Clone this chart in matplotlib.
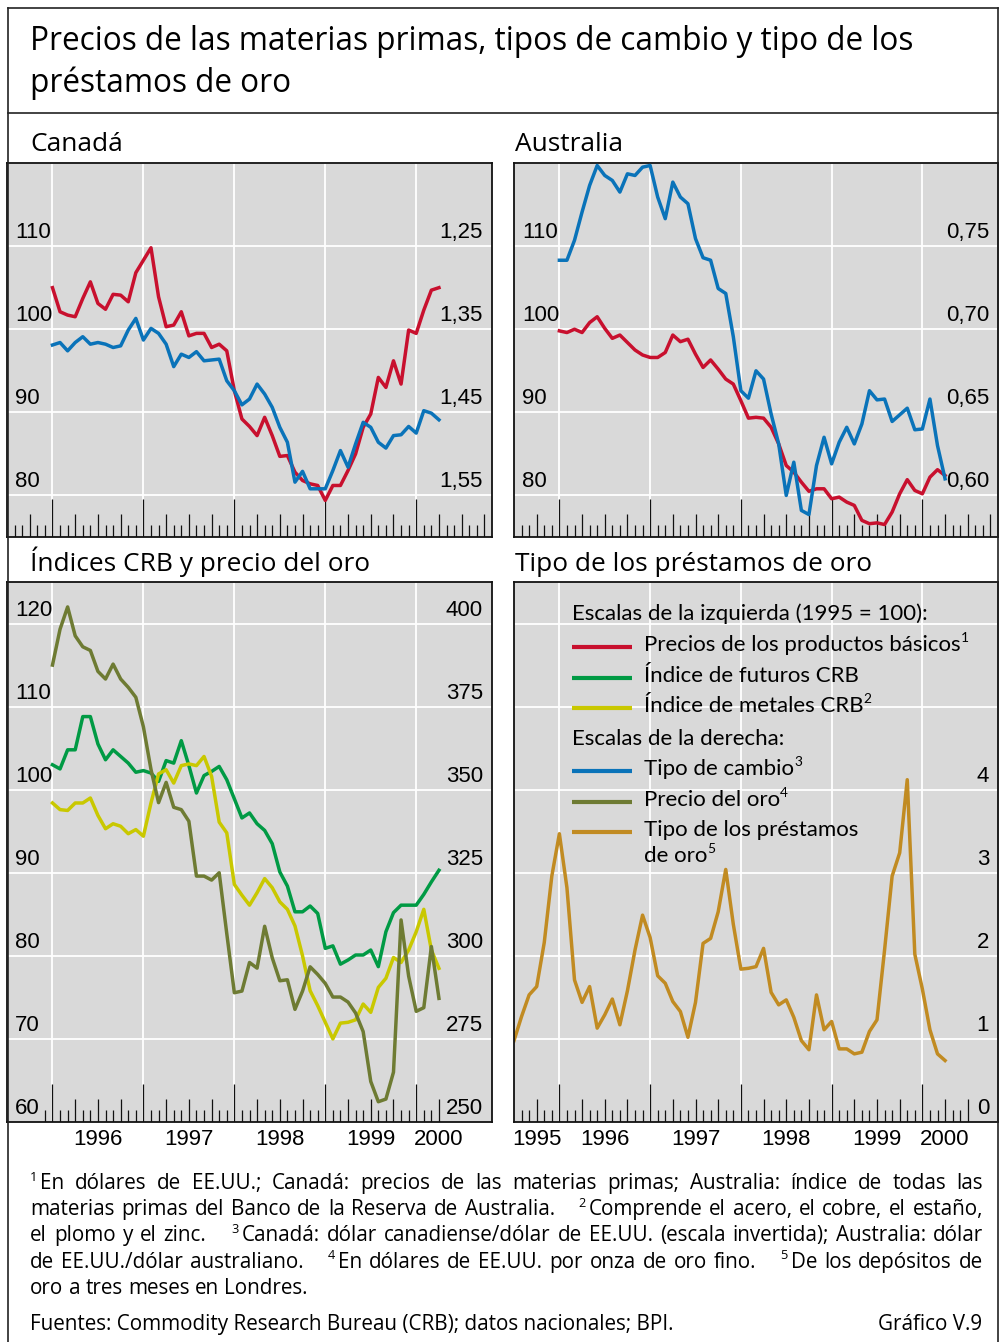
import numpy as np
import pandas as pd
import matplotlib
matplotlib.use('Agg')
import matplotlib.pyplot as plt
import matplotlib.transforms as mtransforms
from matplotlib.lines import Line2D

# ---------------- data (monthly) ----------------
# Jan 1996 .. Apr 2000
CAN_COMMODITY = [105.0, 102.1, 101.7, 101.5, 103.7, 105.7, 103.1, 102.4, 104.2, 104.1, 103.3, 106.8,
                 108.3, 109.8, 103.9, 100.3, 100.5, 102.1, 99.2, 99.5, 99.5, 97.8, 98.2, 97.4,
                 92.6, 89.2, 88.3, 87.2, 89.4, 87.2, 84.7, 84.8, 82.8, 81.8, 81.4, 81.2,
                 79.4, 81.2, 81.2, 83.0, 85.0, 88.2, 89.8, 94.2, 93.0, 96.2, 93.4, 99.9,
                 99.5, 102.3, 104.7, 105.0]
CAN_FX = [1.369, 1.366, 1.376, 1.366, 1.359, 1.368, 1.366, 1.368, 1.372, 1.370, 1.351, 1.337,
          1.363, 1.349, 1.355, 1.368, 1.395, 1.380, 1.384, 1.377, 1.388, 1.387, 1.386, 1.412,
          1.424, 1.441, 1.434, 1.416, 1.428, 1.444, 1.468, 1.486, 1.534, 1.521, 1.542, 1.542,
          1.542, 1.520, 1.496, 1.516, 1.488, 1.462, 1.468, 1.486, 1.493, 1.478, 1.477, 1.467,
          1.475, 1.448, 1.451, 1.459]
AUS_COMMODITY = [99.8, 99.6, 100.0, 99.6, 100.8, 101.5, 100.1, 98.9, 99.3, 98.4, 97.5, 96.9,
                 96.6, 96.6, 97.2, 99.3, 98.5, 98.8, 97.0, 95.4, 96.3, 95.2, 94.0, 93.4,
                 91.4, 89.3, 89.4, 89.3, 88.2, 86.2, 83.6, 82.8, 81.6, 80.5, 80.8, 80.8,
                 79.6, 79.8, 79.2, 78.8, 77.0, 76.6, 76.7, 76.5, 78.0, 80.2, 81.9, 80.6,
                 80.2, 82.2, 83.1, 82.4]
AUS_FX = [0.7415, 0.7415, 0.7535, 0.7705, 0.7865, 0.7985, 0.7925, 0.7895, 0.7825, 0.7935, 0.7925, 0.7975,
          0.7985, 0.7795, 0.7665, 0.7885, 0.7795, 0.7755, 0.7545, 0.7430, 0.7415, 0.7245, 0.7215, 0.6955,
          0.6630, 0.6585, 0.6750, 0.6700, 0.6490, 0.6310, 0.6000, 0.6200, 0.5910, 0.5885, 0.6180, 0.6350,
          0.6190, 0.6320, 0.6410, 0.6310, 0.6430, 0.6630, 0.6575, 0.6580, 0.6445, 0.6485, 0.6525, 0.6395,
          0.6400, 0.6580, 0.6300, 0.6100]
CRB_FUTURES = [103.0, 102.5, 104.8, 104.8, 108.8, 108.8, 105.5, 103.6, 104.8, 104.0, 103.2, 102.1,
               102.3, 102.0, 101.0, 103.5, 103.2, 105.9, 102.9, 99.6, 101.7, 102.2, 102.8, 101.2,
               98.9, 96.6, 97.2, 95.9, 95.1, 93.5, 90.1, 88.4, 85.3, 85.3, 86.0, 85.1,
               80.9, 81.2, 79.0, 79.5, 80.1, 80.1, 80.7, 78.7, 82.9, 85.2, 86.1, 86.1,
               86.1, 87.4, 88.9, 90.3]
CRB_METALS = [98.4, 97.6, 97.5, 98.4, 98.4, 99.0, 96.9, 95.3, 95.9, 95.6, 94.7, 95.2,
              94.4, 98.4, 101.9, 102.4, 100.8, 102.9, 103.1, 102.9, 104.0, 101.6, 96.1, 94.8,
              88.6, 87.3, 86.1, 87.6, 89.3, 88.2, 86.5, 85.6, 83.6, 80.0, 75.8, 74.0,
              72.0, 70.0, 71.9, 72.0, 72.3, 74.2, 73.2, 76.2, 77.3, 79.8, 79.2, 80.7,
              82.9, 85.6, 80.7, 78.5]
GOLD_PRICE = [387.5, 398.3, 405.0, 396.3, 393.0, 391.9, 385.6, 383.3, 387.8, 383.3, 380.8, 377.8,
              368.9, 356.1, 346.1, 352.2, 344.7, 344.0, 340.5, 324.0, 324.0, 322.8, 325.0, 306.7,
              288.9, 289.4, 298.0, 296.3, 308.9, 299.4, 292.5, 292.8, 283.9, 289.4, 296.7, 294.4,
              291.7, 287.6, 287.6, 286.1, 282.8, 277.2, 262.2, 256.1, 256.9, 265.0, 310.8, 293.9,
              283.3, 284.4, 302.8, 287.2]
# Jul 1995 .. Apr 2000
GOLD_LEASE = [0.98, 1.27, 1.53, 1.63, 2.16, 2.96,
              3.47, 2.82, 1.71, 1.44, 1.63, 1.13, 1.29, 1.48, 1.17, 1.58, 2.07, 2.49,
              2.22, 1.76, 1.67, 1.45, 1.33, 1.02, 1.44, 2.15, 2.21, 2.53, 3.04, 2.38,
              1.84, 1.85, 1.87, 2.09, 1.56, 1.41, 1.47, 1.26, 0.98, 0.87, 1.53, 1.11,
              1.21, 0.88, 0.88, 0.82, 0.84, 1.09, 1.23, 2.07, 2.96, 3.24, 4.12, 2.02,
              1.60, 1.11, 0.82, 0.74]
START_MAIN = '1996-01'
START_LEASE = '1995-07'

# tick labels
CAN_LEFT = [80, 90, 100, 110]
CAN_RIGHT = [1.55, 1.45, 1.35, 1.25]
AUS_LEFT = [80, 90, 100, 110]
AUS_RIGHT = [0.60, 0.65, 0.70, 0.75]
CRB_LEFT = [60, 70, 80, 90, 100, 110, 120]
GOLD_RIGHT = [250, 275, 300, 325, 350, 375, 400]
LEASE_RIGHT = [0, 1, 2, 3, 4]
YEARS_LL = ['1996', '1997', '1998', '1999', '2000']
YEARS_LR = ['1995', '1996', '1997', '1998', '1999', '2000']
YEAR_GRID = [1996, 1997, 1998, 1999, 2000]

# ---------------- style ----------------
RED = '#c8102e'
BLUE = '#0a73b9'
GREEN = '#009a44'
YELLOW = '#c9c800'
OLIVE = '#6e7b33'
GOLD = '#c18b22'
BG = '#d9d9d9'
INK = '#111111'
SANS = ['Lato', 'DejaVu Sans']
WIDE = ['Open Sans', 'DejaVu Sans']
TICKF = ['Liberation Sans', 'DejaVu Sans']
TICK_FS = 16
LW = 2.5

W, H = 1000, 1342
fig = plt.figure(figsize=(W / 100, H / 100), dpi=100)
fig.patch.set_facecolor('white')
renderer = fig.canvas.get_renderer()
XLIM = (1995.5, 2000 + 10 / 12)


def fx(x):
    return x / W


def fy(y):
    return 1 - y / H


def month_positions(start, n):
    per = pd.period_range(start, periods=n, freq='M')
    return np.array([p.year + (p.month - 1) / 12 for p in per])


def setup_panel(rect, ylim, grid_vals, tick_first, tick_last):
    l, t, r, b = rect
    ax = fig.add_axes([fx(l), fy(b), (r - l) / W, (b - t) / H])
    hpx = b - t
    ax.set_facecolor(BG)
    ax.set_xlim(XLIM)
    ax.set_ylim(ylim)
    ax.set_xticks([])
    ax.set_yticks([])
    for s in ax.spines.values():
        s.set_linewidth(1.3)
        s.set_color(INK)
        s.set_zorder(8)
    for v in grid_vals:
        ax.axhline(v, color='white', lw=1.3, zorder=1)
    for yr in YEAR_GRID:
        ax.axvline(yr, color='white', lw=1.3, zorder=1)
    trans = ax.get_xaxis_transform()
    for p in pd.period_range(tick_first, tick_last, freq='M'):
        x = p.year + (p.month - 1) / 12
        h = 38 if p.month == 1 else (23 if p.month in (4, 7, 10) else 12)
        ax.plot([x, x], [0, h / hpx], transform=trans, color=INK, lw=0.9,
                zorder=2, solid_capstyle='butt')
    return ax


def twin(ax, ylim):
    ax2 = ax.twinx()
    ax2.set_ylim(ylim)
    ax2.set_xlim(XLIM)
    ax2.set_yticks([])
    ax2.set_xticks([])
    for s in ax2.spines.values():
        s.set_visible(False)
    return ax2


def ylabels(ax, values, side, fmt):
    trans = mtransforms.blended_transform_factory(ax.transAxes, ax.transData)
    trans = trans + mtransforms.ScaledTranslation(0, 8 / 100, fig.dpi_scale_trans)
    axw = ax.get_position().width * W
    x = 8 / axw if side == 'left' else 1 - 9 / axw
    for v in values:
        ax.text(x, v, fmt(v), transform=trans, ha=side, va='baseline',
                fontsize=TICK_FS, family=TICKF, zorder=9)


def xlabels(ax, texts, positions):
    trans = ax.get_xaxis_transform() + mtransforms.ScaledTranslation(0, -23 / 100, fig.dpi_scale_trans)
    for p, s in zip(positions, texts):
        ax.text(p, 0, s, transform=trans, ha='center', va='baseline', fontsize=TICK_FS,
                family=TICKF, clip_on=False)


def fmt_int(v):
    return f'{v:d}'


def fmt_comma(v):
    return f'{v:.2f}'.replace('.', ',')


x_main = month_positions(START_MAIN, len(CAN_COMMODITY))
x_lease = month_positions(START_LEASE, len(GOLD_LEASE))

# ---------------- Canada ----------------
ax = setup_panel((7, 163, 492, 537), (75, 120), [80, 90, 100, 110, 120], '1995-08', '2000-10')
ax.plot(x_main, CAN_COMMODITY, color=RED, lw=LW, zorder=4)
ax2 = twin(ax, (1.60, 1.15))
ax2.plot(x_main, CAN_FX, color=BLUE, lw=LW, zorder=4)
ylabels(ax, CAN_LEFT, 'left', fmt_int)
ylabels(ax2, CAN_RIGHT, 'right', fmt_comma)

# ---------------- Australia ----------------
ax = setup_panel((514, 163, 998, 537), (75, 120), [80, 90, 100, 110, 120], '1995-08', '2000-10')
ax.plot(x_main, AUS_COMMODITY, color=RED, lw=LW, zorder=4)
ax2 = twin(ax, (0.575, 0.80))
ax2.plot(x_main, AUS_FX, color=BLUE, lw=LW, zorder=4)
ylabels(ax, AUS_LEFT, 'left', fmt_int)
ylabels(ax2, AUS_RIGHT, 'right', fmt_comma)

# ---------------- CRB / gold ----------------
ax = setup_panel((7, 582, 492, 1122), (60, 125), [70, 80, 90, 100, 110, 120], '1995-12', '2000-04')
ax.plot(x_main, CRB_FUTURES, color=GREEN, lw=LW, zorder=4)
ax.plot(x_main, CRB_METALS, color=YELLOW, lw=LW, zorder=4)
ax2 = twin(ax, (250, 412.5))
ax2.plot(x_main, GOLD_PRICE, color=OLIVE, lw=LW, zorder=4)
ylabels(ax, CRB_LEFT, 'left', fmt_int)
ylabels(ax2, GOLD_RIGHT, 'right', fmt_int)
xlabels(ax, YEARS_LL, [1996.5, 1997.5, 1998.5, 1999.5, 2000.25])

# ---------------- Gold lease rate ----------------
ax = setup_panel((514, 582, 998, 1122), (0, 6.5), [1, 2, 3, 4, 5, 6], '1995-08', '2000-07')
ax.plot(x_lease, GOLD_LEASE, color=GOLD, lw=LW, zorder=4)
ylabels(ax, LEASE_RIGHT, 'right', fmt_int)
xlabels(ax, YEARS_LR, [1995.75, 1996.5, 1997.5, 1998.5, 1999.5, 2000.25])


# ---------------- text helpers ----------------
def measure(s, size, family=SANS):
    t = fig.text(0, 0, s, fontsize=size, family=family)
    w = t.get_window_extent(renderer=renderer).width
    t.remove()
    return w


def fit(s, target, family):
    return 20 * target / measure(s, 20, family)


def put(x, y, s, size, family=SANS, **kw):
    fig.text(fx(x), fy(y), s, fontsize=size, family=family, va='baseline', ha='left', **kw)


def draw_segments(x, y, segs, size, family=SANS):
    for s, sup in segs:
        if sup:
            fs = size * 0.62
            dy = size * 0.40 * 100 / 72
            put(x, y - dy, s, fs, family)
            x += measure(s, fs, family) + 1
        else:
            put(x, y, s, size, family)
            x += measure(s, size, family)
    return x


def justified_line(tokens, x0, x1, y, size, family, justify=True):
    words, weights = [], []
    pending, extra = None, 0
    for tok in tokens:
        if tok == '||':
            extra += 2.5
            continue
        if tok.startswith('^'):
            pending = tok[1:]
            continue
        segs = []
        if pending is not None:
            segs.append((pending, True))
            pending = None
        segs.append((tok, False))
        if words:
            weights.append(1 + extra)
        extra = 0
        words.append(segs)
    sup_fs = size * 0.62
    widths = []
    for segs in words:
        w = 0
        for s, sup in segs:
            w += measure(s, sup_fs, family) + 3 if sup else measure(s, size, family)
        widths.append(w)
    natural = measure('n n', size, family) - measure('nn', size, family)
    if justify:
        unit = (x1 - x0 - sum(widths)) / sum(weights)
    else:
        unit = natural
    x = x0
    for i, segs in enumerate(words):
        xx = x
        for s, sup in segs:
            if sup:
                put(xx, y - size * 0.40 * 100 / 72, s, sup_fs, family)
                xx += measure(s, sup_fs, family) + 3
            else:
                put(xx, y, s, size, family)
                xx += measure(s, size, family)
        x += widths[i]
        if i < len(weights):
            x += unit * weights[i]


# ---------------- frame and titles ----------------
for xs, ys in [([7.5, 7.5], [8, 1342]), ([997.5, 997.5], [8, 1342]),
               ([7.5, 997.5], [8, 8]), ([7.5, 997.5], [113, 113])]:
    fig.add_artist(Line2D([fx(v) for v in xs], [fy(v) for v in ys], color='#222222', lw=1.2))

TITLE1 = 'Precios de las materias primas, tipos de cambio y tipo de los'
TITLE2 = 'préstamos de oro'
title_fs = fit(TITLE1, 880, WIDE)
put(30, 50, TITLE1, title_fs, WIDE)
put(30, 92, TITLE2, title_fs, WIDE)

PANEL_TITLES = ['Canadá', 'Australia', 'Índices CRB y precio del oro', 'Tipo de los préstamos de oro']
pt_fs = fit(PANEL_TITLES[2], 338, WIDE)
put(30, 151, PANEL_TITLES[0], pt_fs, WIDE)
put(515, 151, PANEL_TITLES[1], pt_fs, WIDE)
put(30, 571, PANEL_TITLES[2], pt_fs, WIDE)
put(515, 571, PANEL_TITLES[3], pt_fs, WIDE)

# ---------------- legend ----------------
LEG = 16
put(572, 620, 'Escalas de la izquierda (1995 = 100):', LEG)
put(572, 745, 'Escalas de la derecha:', LEG)
legend_rows = [
    (RED, 647, [('Precios de los productos básicos', False), ('1', True)]),
    (GREEN, 678, [('Índice de futuros CRB', False)]),
    (YELLOW, 708, [('Índice de metales CRB', False), ('2', True)]),
    (BLUE, 771, [('Tipo de cambio', False), ('3', True)]),
    (OLIVE, 802, [('Precio del oro', False), ('4', True)]),
    (GOLD, 832, [('Tipo de los préstamos', False)]),
]
for col, ly, segs in legend_rows:
    fig.add_artist(Line2D([fx(572), fx(632)], [fy(ly), fy(ly)], color=col, lw=3.0,
                          solid_capstyle='butt'))
    draw_segments(644, ly + 4, segs, LEG)
draw_segments(644, 862, [('de oro', False), ('5', True)], LEG)

# ---------------- footnotes ----------------
SOURCE = 'Fuentes: Commodity Research Bureau (CRB); datos nacionales; BPI.'
FN = fit(SOURCE, 644, WIDE)
notes = [
    ('^1 En dólares de EE.UU.; Canadá: precios de las materias primas; Australia: índice de todas las', True),
    ('materias primas del Banco de la Reserva de Australia. || ^2 Comprende el acero, el cobre, el estaño,', True),
    ('el plomo y el zinc. || ^3 Canadá: dólar canadiense/dólar de EE.UU. (escala invertida); Australia: dólar', True),
    ('de EE.UU./dólar australiano. || ^4 En dólares de EE.UU. por onza de oro fino. || ^5 De los depósitos de', True),
    ('oro a tres meses en Londres.', False),
]
for k, (line, just) in enumerate(notes):
    justified_line(line.split(' '), 30, 983, 1189 + k * 26.2, FN, WIDE, justify=just)

put(30, 1330, SOURCE, FN, WIDE)
fig.text(fx(982), fy(1330), 'Gráfico V.9', fontsize=FN, family=WIDE, va='baseline', ha='right')

fig.savefig('out.png', dpi=100, facecolor='white')
